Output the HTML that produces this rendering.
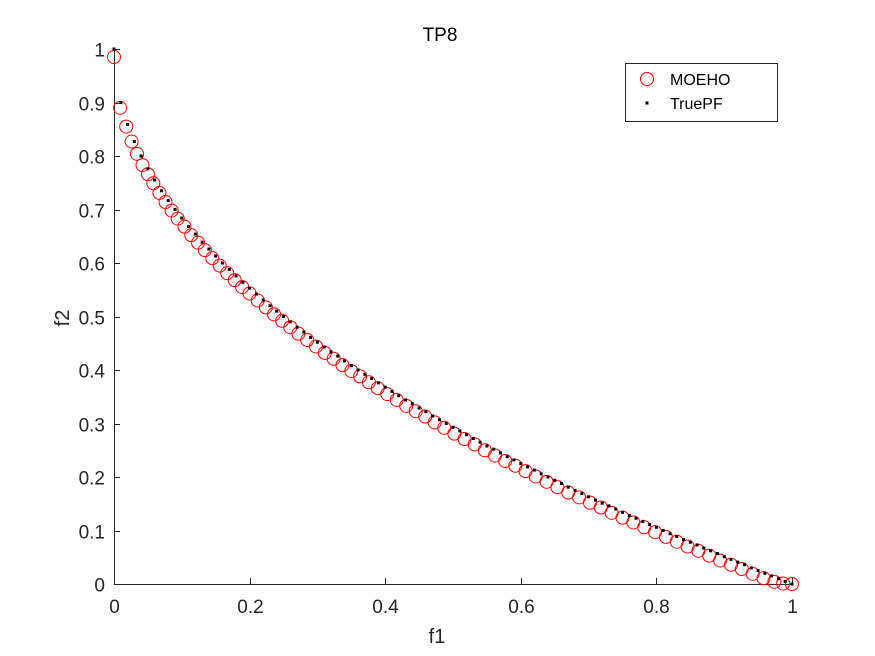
<!DOCTYPE html>
<html><head><meta charset="utf-8"><style>
html,body{margin:0;padding:0;background:#fff;}
svg{display:block;font-family:"Liberation Sans",sans-serif;}
</style></head><body>
<svg id="chart" width="875" height="656" viewBox="0 0 875 656">
<rect x="0" y="0" width="875" height="656" fill="#fff"/>
<g id="axes"></g>
<g id="marks"></g>
<text x="440" y="41" text-anchor="middle" font-size="19" fill="#000">TP8</text>
<text x="437" y="643" text-anchor="middle" font-size="20" fill="#262626">f1</text>
<text transform="translate(69,318) rotate(-90)" text-anchor="middle" font-size="20" fill="#262626">f2</text>
<g>
<rect x="625.5" y="63.5" width="152" height="58" fill="#fff" stroke="#262626" stroke-width="1"/>
<circle cx="647" cy="79" r="6.5" fill="none" stroke="#ff0000" stroke-width="1"/>
<text x="670" y="85" font-size="16" fill="#000">MOEHO</text>
<rect x="645.5" y="101.5" width="3" height="3" fill="#000"/>
<text x="670" y="109" font-size="16" fill="#000">TruePF</text>
</g>
</svg>
<script>
const xTicks = [0, 0.2, 0.4, 0.6, 0.8, 1];
const xTickLabels = ["0", "0.2", "0.4", "0.6", "0.8", "1"];
const yTicks = [0, 0.1, 0.2, 0.3, 0.4, 0.5, 0.6, 0.7, 0.8, 0.9, 1];
const yTickLabels = ["0", "0.1", "0.2", "0.3", "0.4", "0.5", "0.6", "0.7", "0.8", "0.9", "1"];
const trueF1 = [0,0.01,0.02,0.03,0.04,0.05,0.06,0.07,0.08,0.09,0.1,0.11,0.12,0.13,0.14,0.15,0.16,0.17,0.18,0.19,0.2,0.21,0.22,0.23,0.24,0.25,0.26,0.27,0.28,0.29,0.3,0.31,0.32,0.33,0.34,0.35,0.36,0.37,0.38,0.39,0.4,0.41,0.42,0.43,0.44,0.45,0.46,0.47,0.48,0.49,0.5,0.51,0.52,0.53,0.54,0.55,0.56,0.57,0.58,0.59,0.6,0.61,0.62,0.63,0.64,0.65,0.66,0.67,0.68,0.69,0.7,0.71,0.72,0.73,0.74,0.75,0.76,0.77,0.78,0.79,0.8,0.81,0.82,0.83,0.84,0.85,0.86,0.87,0.88,0.89,0.9,0.91,0.92,0.93,0.94,0.95,0.96,0.97,0.98,0.99,1];
const trueF2 = [1,0.9,0.859,0.827,0.8,0.776,0.755,0.735,0.717,0.7,0.684,0.668,0.654,0.639,0.626,0.613,0.6,0.588,0.576,0.564,0.553,0.542,0.531,0.52,0.51,0.5,0.49,0.48,0.471,0.461,0.452,0.443,0.434,0.426,0.417,0.408,0.4,0.392,0.384,0.376,0.368,0.36,0.352,0.344,0.337,0.329,0.322,0.314,0.307,0.3,0.293,0.286,0.279,0.272,0.265,0.258,0.252,0.245,0.238,0.232,0.225,0.219,0.213,0.206,0.2,0.194,0.188,0.181,0.175,0.169,0.163,0.157,0.151,0.146,0.14,0.134,0.128,0.123,0.117,0.111,0.106,0.1,0.094,0.089,0.083,0.078,0.073,0.067,0.062,0.057,0.051,0.046,0.041,0.036,0.03,0.025,0.02,0.015,0.01,0.005,0];
const moehoF1 = [0,0.009,0.018,0.026,0.034,0.042,0.05,0.058,0.067,0.076,0.085,0.094,0.104,0.114,0.124,0.134,0.145,0.156,0.167,0.178,0.189,0.2,0.212,0.224,0.236,0.248,0.26,0.272,0.285,0.298,0.311,0.324,0.337,0.35,0.363,0.376,0.389,0.403,0.417,0.431,0.445,0.459,0.473,0.487,0.502,0.517,0.532,0.547,0.562,0.577,0.592,0.607,0.622,0.638,0.654,0.67,0.686,0.702,0.718,0.734,0.75,0.766,0.782,0.798,0.814,0.83,0.846,0.862,0.878,0.894,0.91,0.926,0.942,0.958,0.974,0.987,1];
const moehoF2 = [0.985,0.89,0.855,0.827,0.804,0.783,0.766,0.749,0.731,0.714,0.698,0.683,0.668,0.652,0.638,0.624,0.609,0.595,0.581,0.568,0.555,0.543,0.53,0.517,0.504,0.492,0.48,0.468,0.456,0.444,0.432,0.421,0.409,0.398,0.388,0.377,0.366,0.355,0.344,0.333,0.323,0.313,0.302,0.292,0.281,0.271,0.261,0.25,0.24,0.23,0.221,0.211,0.201,0.191,0.181,0.171,0.162,0.152,0.143,0.133,0.124,0.115,0.106,0.097,0.088,0.079,0.07,0.062,0.053,0.044,0.036,0.028,0.019,0.011,0.004,0.001,0];

const NS = "http://www.w3.org/2000/svg";
const X0 = 114, X1 = 792, Y0 = 584, Y1 = 49;
function xs(v){ return X0 + v * (X1 - X0); }
function ys(v){ return Y0 - v * (Y0 - Y1); }
function mk(tag, attrs, parent){
  const el = document.createElementNS(NS, tag);
  for (const k in attrs) el.setAttribute(k, attrs[k]);
  parent.appendChild(el);
  return el;
}
const axes = document.getElementById("axes");
const marks = document.getElementById("marks");

let ax = mk("line", {x1: X0, y1: Y0 + 0.5, x2: X1, y2: Y0 + 0.5, stroke: "#262626", "stroke-width": 1}, axes);


let ay = mk("line", {x1: X0 + 0.5, y1: Y1, x2: X0 + 0.5, y2: Y0, stroke: "#262626", "stroke-width": 1}, axes);



xTicks.forEach((v, i) => {
  const x = Math.round(xs(v)) + 0.5;
  const t = mk("line", {x1: x, y1: Y0, x2: x, y2: Y0 - 6, stroke: "#262626", "stroke-width": 1}, axes);
  
  
  const l = mk("text", {x: x, y: Y0 + 29, "text-anchor": "middle", "font-size": 19, fill: "#262626"}, axes);
  l.textContent = xTickLabels[i];
  
  
});
yTicks.forEach((v, i) => {
  const y = Math.round(ys(v)) + 0.5;
  const t = mk("line", {x1: X0, y1: y, x2: X0 + 6, y2: y, stroke: "#262626", "stroke-width": 1}, axes);
  
  
  const l = mk("text", {x: X0 - 9, y: y + 7, "text-anchor": "end", "font-size": 19, fill: "#262626"}, axes);
  l.textContent = yTickLabels[i];
  
  
});

moehoF1.forEach((v, i) => {
  const c = mk("circle", {cx: xs(v), cy: ys(moehoF2[i]), r: 6.5, fill: "none", stroke: "#ff0000", "stroke-width": 1}, marks);
  
  
});
trueF1.forEach((v, i) => {
  const d = mk("rect", {x: xs(v) - 1.5, y: ys(trueF2[i]) - 1.5, width: 3, height: 3, fill: "#000"}, marks);
  
  
});
</script>
</body></html>
